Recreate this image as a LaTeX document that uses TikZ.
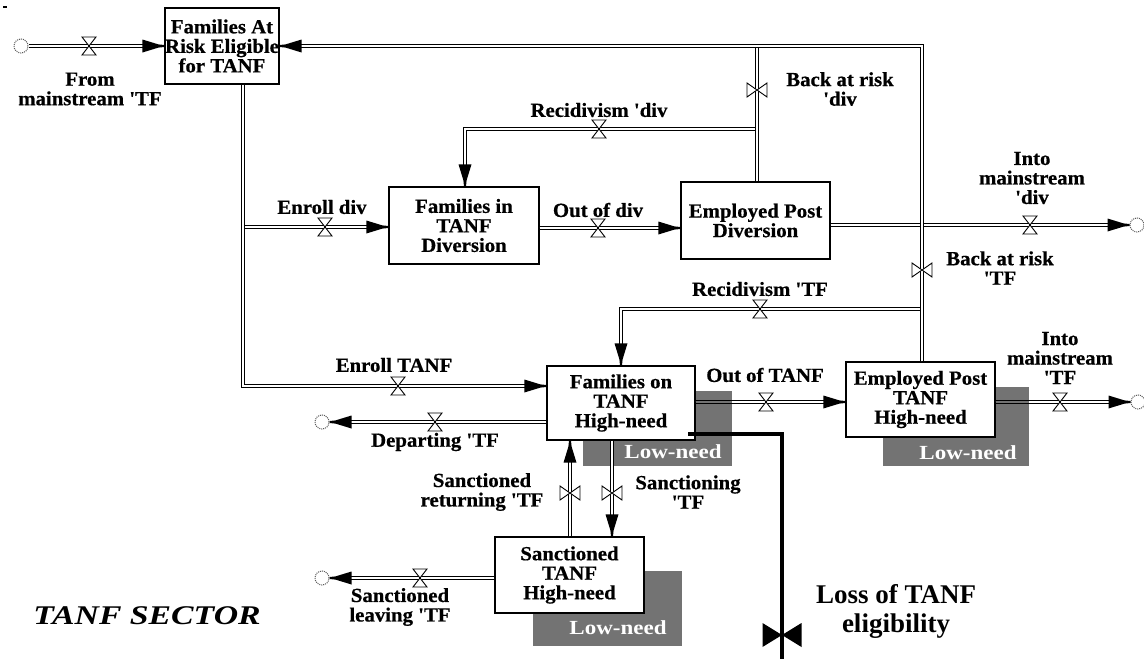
\documentclass[tikz,border=0pt]{standalone}
\usepackage{fontspec}
\setmainfont{Liberation Serif}
\newfontfamily\labfont{Liberation Serif Bold}[FakeStretch=1.04, FakeBold=0.6]
\newfontfamily\lowfont{Liberation Serif Bold}[FakeStretch=1.15]
\newfontfamily\secfont{Liberation Serif}[FakeStretch=1.25]
\usetikzlibrary{calc}

\begin{document}
\begin{tikzpicture}[x=1pt,y=-1pt,
  stock/.style={draw, line width=1.3pt, fill=white, inner sep=0pt, align=center,
    font=\labfont\fontsize{20}{19.5}\selectfont},
  lowbox/.style={fill=black!55, inner sep=0pt},
  lowtxt/.style={text=white, inner sep=0pt, font=\lowfont\fontsize{20}{20}\selectfont},
  flowlabel/.style={inner sep=0pt, align=center,
    font=\labfont\fontsize{20}{19.5}\selectfont},
  pipe/.style={draw, line width=1.2pt, double=white, double distance=1.8pt},
  cloudnode/.style={circle, draw=black!65, densely dotted, line width=1pt,
    minimum size=14pt, inner sep=0pt},
  pics/tipR/.style={code={\fill (0,-1) -- (-6,-1.6) -- (-22,-6.5) -- (-22,6.5) -- (-6,1.6) -- (0,1) -- cycle;}},
  pics/tipL/.style={code={\fill (0,-1) -- (6,-1.6) -- (22,-6.5) -- (22,6.5) -- (6,1.6) -- (0,1) -- cycle;}},
  pics/tipD/.style={code={\fill (-1,0) -- (-1.6,-6) -- (-6.5,-22) -- (6.5,-22) -- (1.6,-6) -- (1,0) -- cycle;}},
  pics/tipU/.style={code={\fill (-1,0) -- (-1.6,6) -- (-6.5,22) -- (6.5,22) -- (1.6,6) -- (1,0) -- cycle;}},
  pics/valveH/.style={code={\filldraw[fill=white, line width=0.9pt]
    (-7,-9) -- (7,-9) -- (0,0) -- cycle (-7,9) -- (7,9) -- (0,0) -- cycle;}},
  pics/valveV/.style={code={\filldraw[fill=white, line width=0.9pt]
    (-10,-7) -- (-10,7) -- (0,0) -- cycle (10,-7) -- (10,7) -- (0,0) -- cycle;}},
  pics/valveBig/.style={code={\fill
    (-19.5,-12) -- (-19.5,12) -- (0,0) -- cycle (19.5,-12) -- (19.5,12) -- (0,0) -- cycle;}},
]
\useasboundingbox (0,0) rectangle (1144,659);

% small mark in the corner
\draw[line width=1.4pt] (3,7) -- (7,7);

% low-need layers behind the high-need stocks
\node[lowbox, minimum width=149pt, minimum height=75pt] (onlow) at (657.5,428.5) {};
\node[lowbox, minimum width=146pt, minimum height=79pt] (emplow) at (956,426.5) {};
\node[lowbox, minimum width=149pt, minimum height=75pt] (sanclow) at (607.5,608.5) {};
\node[lowtxt] (onlowtxt) at (673,452) {Low-need};
\node[lowtxt] (emplowtxt) at (968,453) {Low-need};
\node[lowtxt] (sanclowtxt) at (618,628) {Low-need};

% sources and sinks
\node[cloudnode] (c1) at (21,46) {};
\node[cloudnode] (c2) at (322,422) {};
\node[cloudnode] (c3) at (322,578) {};
\node[cloudnode] (c4) at (1137,225) {};
\node[cloudnode] (c5) at (1138,402) {};

% stocks
\node[stock, minimum width=106pt, minimum height=76pt] (atrisk) at (222,46) {Families At\\Risk Eligible\\for TANF};
\node[stock, minimum width=150pt, minimum height=77pt] (div) at (464,225.5) {Families in\\TANF\\Diversion};
\node[stock, minimum width=149pt, minimum height=77pt] (empdiv) at (755.5,220.5) {Employed Post\\Diversion};
\node[stock, minimum width=148pt, minimum height=74pt] (ontanf) at (621,403) {Families on\\TANF\\High-need};
\node[stock, minimum width=149pt, minimum height=75pt] (emptanf) at (920.5,399.5) {Employed Post\\TANF\\High-need};
\node[stock, minimum width=149pt, minimum height=76pt] (sanc) at (569.5,575) {Sanctioned\\TANF\\High-need};

% pipe levels and corners
\coordinate (jTop) at (922,46);
\coordinate (jDiv) at (757,46);
\coordinate (rdA) at (757,129);
\coordinate (rdB) at (465,129);
\coordinate (enA) at (243,227);
\coordinate (enB) at (243,386);
\coordinate (rtA) at (922,309);
\coordinate (rtB) at (621,309);
\coordinate (od) at (0,228);
\coordinate (ot) at (0,402);
\coordinate (dp) at (0,422);
\coordinate (sl) at (0,578);
\coordinate (sg) at (612,0);
\coordinate (sr) at (570,0);
\coordinate (lossA) at (688,434);
\coordinate (lossB) at (782,434);
\coordinate (lossEnd) at (782,659);

% pipes (branches first, trunks over them)
\draw[pipe, shorten >=14pt] (c1) -- (atrisk.west);
\draw[pipe, shorten >=14pt] (rdA) -- (rdB) -- (rdB |- div.north);
\draw[pipe] (jDiv |- empdiv.north) -- (jDiv);
\draw[pipe, shorten >=14pt] (rtA) -- (rtB) -- (rtB |- ontanf.north);
\draw[pipe, shorten >=14pt] (empdiv.east |- c4) -- (c4);
\draw[pipe, shorten >=14pt] (jTop |- emptanf.north) -- (jTop) -- (atrisk.east);
\draw[pipe, shorten >=14pt] (enA) -- (div.west |- enA);
\draw[pipe, shorten >=14pt] (atrisk.south -| enA) -- (enB) -- (ontanf.west |- enB);
\draw[pipe, shorten >=14pt] (div.east |- od) -- (empdiv.west |- od);
\draw[pipe, shorten >=14pt] (ontanf.east |- ot) -- (emptanf.west |- ot);
\draw[pipe, shorten >=14pt] (emptanf.east |- ot) -- (c5);
\draw[pipe, shorten >=14pt] (ontanf.west |- dp) -- (c2);
\draw[pipe, shorten >=14pt] (ontanf.south -| sg) -- (sanc.north -| sg);
\draw[pipe, shorten >=14pt] (sanc.north -| sr) -- (ontanf.south -| sr);
\draw[pipe, shorten >=14pt] (sanc.west |- sl) -- (c3);
% pipe stretches lying over the low-need layers
\draw[line width=1.8pt, black!55] (ontanf.east |- ot) -- (onlow.east |- ot);
\draw[line width=1.8pt, black!55] (emptanf.east |- ot) -- (emplow.east |- ot);

% arrow heads
\pic at (atrisk.west) {tipR};
\pic at (atrisk.east) {tipL};
\pic at (rdB |- div.north) {tipD};
\pic at (rtB |- ontanf.north) {tipD};
\pic at (c4.west) {tipR};
\pic at (div.west |- enA) {tipR};
\pic at (ontanf.west |- enB) {tipR};
\pic at (empdiv.west |- od) {tipR};
\pic at (emptanf.west |- ot) {tipR};
\pic at (c5.west) {tipR};
\pic at (c2.east) {tipL};
\pic at (sanc.north -| sg) {tipD};
\pic at (ontanf.south -| sr) {tipU};
\pic at (c3.east) {tipL};

% valves
\pic at (89,46) {valveH};
\pic at (757,90) {valveV};
\pic at (922,270) {valveV};
\pic at (599,129) {valveH};
\pic at (325,227) {valveH};
\pic at (398,386) {valveH};
\pic at (598,228) {valveH};
\pic at (1030,225) {valveH};
\pic at (760,309) {valveH};
\pic at (766,402) {valveH};
\pic at (1060,402) {valveH};
\pic at (435,422) {valveH};
\pic at (612,493) {valveV};
\pic at (570,493) {valveV};
\pic at (420,578) {valveH};

% loss of eligibility
\draw[line width=4.5pt] (lossA) -- (lossB) -- (lossEnd);
\pic at (782,635) {valveBig};

% flow labels
\node[flowlabel] (lFrom) at (90,89) {From\\mainstream 'TF};
\node[flowlabel] (lBackDiv) at (840,89) {Back at risk\\'div};
\node[flowlabel] (lRecDiv) at (599,110) {Recidivism 'div};
\node[flowlabel] (lEnrDiv) at (322,207) {Enroll div};
\node[flowlabel] (lOutDiv) at (598,210) {Out of div};
\node[flowlabel] (lIntoDiv) at (1032,178) {Into\\mainstream\\'div};
\node[flowlabel] (lBackTF) at (1000,268) {Back at risk\\'TF};
\node[flowlabel] (lRecTF) at (760,289) {Recidivism 'TF};
\node[flowlabel] (lEnrTANF) at (394,365) {Enroll TANF};
\node[flowlabel] (lOutTANF) at (765,375) {Out of TANF};
\node[flowlabel] (lIntoTF) at (1060,358) {Into\\mainstream\\'TF};
\node[flowlabel] (lDep) at (435,442) {Departing 'TF};
\node[flowlabel] (lRet) at (482,492) {Sanctioned\\returning 'TF};
\node[flowlabel] (lSanc) at (688,492) {Sanctioning\\'TF};
\node[flowlabel] (lLeave) at (400,607) {Sanctioned\\leaving 'TF};

\node[inner sep=0pt, align=center, font=\bfseries\fontsize{27}{29}\selectfont] (lLoss) at (896,611) {Loss of TANF\\eligibility};
\node[inner sep=0pt, font=\secfont\bfseries\itshape\fontsize{27}{27}\selectfont] (sector) at (147,616) {TANF SECTOR};
\end{tikzpicture}
\end{document}
